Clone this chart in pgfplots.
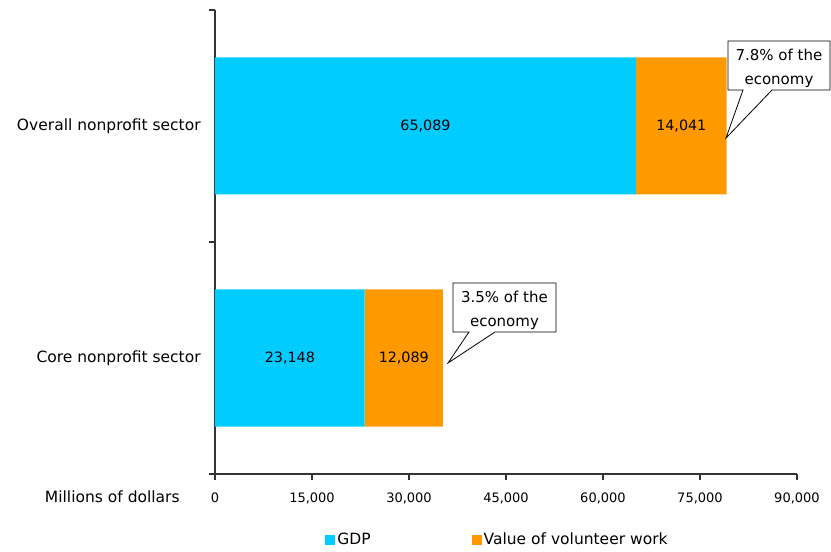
\documentclass[border=0pt]{standalone}
\usepackage{fontspec}
\setmainfont{DejaVu Sans}
\usepackage{pgfplots}
\pgfplotsset{compat=1.18}
\definecolor{gdp}{HTML}{00CCFF}
\definecolor{vol}{HTML}{FF9900}
\definecolor{axisc}{HTML}{333333}
\newcommand{\txtf}{\fontsize{15.5pt}{18pt}\selectfont}
\newcommand{\numf}{\fontsize{13pt}{16pt}\selectfont}
\newcommand{\barf}{\fontsize{14.3pt}{17pt}\selectfont}
\begin{document}
\txtf
\begin{tikzpicture}
\useasboundingbox (0,0) rectangle (831pt,552pt);
\begin{axis}[
  at={(215pt,78pt)}, anchor=south west,
  scale only axis, width=582pt, height=464pt,
  xbar stacked, bar width=137pt,
  xmin=0, xmax=90000, ymin=-0.5, ymax=1.5,
  axis x line*=bottom, axis y line*=left,
  axis line style={-, axisc, line width=1.3pt},
  every tick/.style={axisc, line width=1.1pt},
  tick align=outside, major tick length=6pt,
  xtick={0,15000,30000,45000,60000,75000,90000},
  scaled x ticks=false,
  /pgf/number format/.cd, 1000 sep={,}, assume math mode=true, /pgfplots/.cd,
  xticklabel style={font=\numf, yshift=-7pt},
  ytick={-0.5,0.5,1.5}, yticklabels={},
  extra y ticks={0,1},
  extra y tick labels={Core nonprofit sector, Overall nonprofit sector},
  extra y tick style={major tick length=0pt, yticklabel style={font=\txtf, xshift=-9pt}},
  clip=false,
  legend columns=2,
  legend style={at={(axis description cs:0.5,-0.142)}, anchor=center, xshift=-8.5pt, draw=none, font=\txtf,
    /tikz/every even column/.append style={column sep=99pt}},
  legend image code/.code={\fill[#1] (0pt,-5pt) rectangle (10pt,5pt);},
]
\addplot[fill=gdp, draw=none] coordinates {(23148,0) (65089,1)};
\addplot[fill=vol, draw=none] coordinates {(12089,0) (14041,1)};
\legend{GDP, Value of volunteer work}

\coordinate (l1) at (axis cs:32544.5,1);
\coordinate (l2) at (axis cs:72109.5,1);
\coordinate (l3) at (axis cs:11574,0);
\coordinate (l4) at (axis cs:29192.5,0);
\coordinate (mil) at (axis cs:0,-0.5);
\coordinate (a1) at (axis cs:79330,1.366);
\coordinate (a2) at (axis cs:95103,1.366);
\coordinate (a3) at (axis cs:95103,1.155);
\coordinate (a4) at (axis cs:86134,1.155);
\coordinate (a5) at (axis cs:79021,0.948);
\coordinate (a6) at (axis cs:81649,1.155);
\coordinate (a7) at (axis cs:79330,1.155);
\coordinate (at) at (axis cs:87216,1.261);
\coordinate (b1) at (axis cs:36804,0.323);
\coordinate (b2) at (axis cs:52732,0.323);
\coordinate (b3) at (axis cs:52732,0.112);
\coordinate (b4) at (axis cs:43299,0.112);
\coordinate (b5) at (axis cs:36031,-0.0216);
\coordinate (b6) at (axis cs:39278,0.112);
\coordinate (b7) at (axis cs:36804,0.112);
\coordinate (bt) at (axis cs:44768,0.218);
\end{axis}
\node[font=\barf] at (l1) {65,089};
\node[font=\barf] at (l2) {14,041};
\node[font=\barf] at (l3) {23,148};
\node[font=\barf] at (l4) {12,089};
\node[anchor=east] at (mil) [xshift=-30pt, yshift=-23pt] {Millions of dollars};
\filldraw[fill=white, draw=black, line width=0.8pt]
  (a1) -- (a2) -- (a3) -- (a4) -- (a5) -- (a6) -- (a7) -- cycle;
\node[align=center, font=\fontsize{15pt}{24pt}\selectfont, yshift=-3pt] at (at) {7.8\% of the\\economy};
\filldraw[fill=white, draw=black, line width=0.8pt]
  (b1) -- (b2) -- (b3) -- (b4) -- (b5) -- (b6) -- (b7) -- cycle;
\node[align=center, font=\fontsize{15pt}{24pt}\selectfont, yshift=-2.5pt] at (bt) {3.5\% of the\\economy};
\end{tikzpicture}
\end{document}
